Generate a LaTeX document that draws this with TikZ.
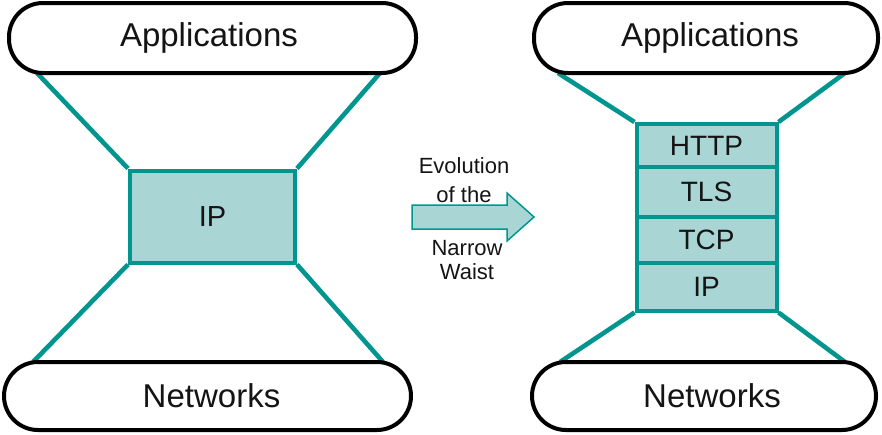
\documentclass[tikz,border=0pt]{standalone}
\usepackage{fontspec}
\setmainfont{Liberation Sans}
\usetikzlibrary{backgrounds}
\definecolor{wteal}{RGB}{0,150,143}
\definecolor{wfill}{RGB}{169,214,213}
\definecolor{textc}{RGB}{20,20,20}
\begin{document}
\begin{tikzpicture}[x=1pt,y=-1pt,
  pill/.style={draw=black, line width=4pt, rounded corners=34pt, fill=white,
    text=textc, font=\fontsize{33}{40}\selectfont, inner sep=0pt,
    minimum height=70pt},
  layer/.style={draw=wteal, fill=wfill, line width=4pt, text=textc,
    inner sep=0pt, font=\fontsize{28}{34}\selectfont, minimum width=140pt},
  link/.style={draw=wteal, line width=4.6pt},
  caption/.style={text=textc, align=center, inner sep=0pt}]
\useasboundingbox (0,0) rectangle (882,434);

% left hourglass
\node[pill, minimum width=407pt] (appL) at (212.5,38) {Applications\hspace*{7pt}};
\node[pill, minimum width=407pt, minimum height=68pt] (netL) at (207.5,396) {\hspace*{8pt}Networks};
\node[layer, minimum width=165pt, minimum height=92pt,
  font=\fontsize{29}{35}\selectfont] (ipL) at (212.5,216.5) {IP};
\coordinate (aL1) at (37,73);
\coordinate (aL2) at (380,73);
\coordinate (nL1) at (33,362);
\coordinate (nL2) at (383,362);

% right hourglass
\node[pill, minimum width=344pt] (appR) at (706,38) {\hspace*{8pt}Applications};
\node[pill, minimum width=344pt, minimum height=68pt] (netR) at (704,396) {\hspace*{16pt}Networks};
\node[layer, minimum height=43pt] (http) at (706.5,145.5) {HTTP};
\node[layer, minimum height=50pt] (tls) at (706.5,192) {TLS};
\node[layer, minimum height=46pt] (tcp) at (706.5,240) {TCP};
\node[layer, minimum height=47.5pt] (ipR) at (706.5,286.75) {IP};
\coordinate (aR1) at (558,73);
\coordinate (aR2) at (845,73);
\coordinate (nR1) at (560,362);
\coordinate (nR2) at (845,362);

\begin{pgfonlayer}{background}
\draw[link] (aL1) -- (ipL.north west);
\draw[link] (aL2) -- (ipL.north east);
\draw[link] (ipL.south west) -- (nL1);
\draw[link] (ipL.south east) -- (nL2);
\draw[link] (aR1) -- (http.north west);
\draw[link] (aR2) -- (http.north east);
\draw[link] (ipR.south west) -- (nR1);
\draw[link] (ipR.south east) -- (nR2);
\end{pgfonlayer}

% evolution arrow
\draw[fill=wfill, draw=wteal, line width=1.5pt, line join=miter]
  (412,205) -- (507,205) -- (507,193) -- (534,217) -- (507,241)
  -- (507,229) -- (412,229) -- cycle;
\node[caption, font=\fontsize{22}{28.5}\selectfont] (evo) at (464,180) {Evolution\\of the};
\node[caption, font=\fontsize{22}{24.5}\selectfont] (waist) at (467,260) {Narrow\\Waist};
\end{tikzpicture}
\end{document}
